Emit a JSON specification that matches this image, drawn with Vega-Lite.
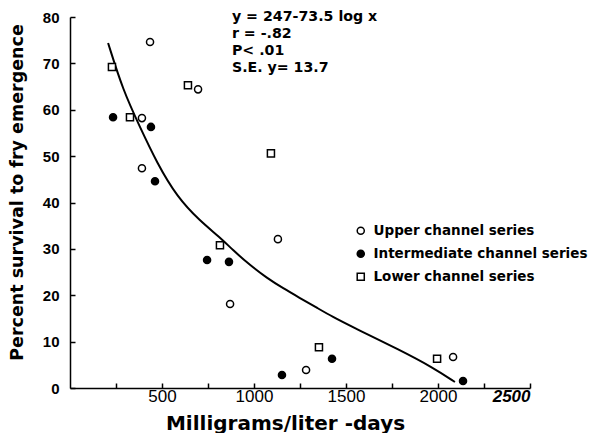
{
  "$schema": "https://vega.github.io/schema/vega-lite/v6.json",
  "width": 460,
  "height": 371,
  "autosize": {"type": "none"},
  "padding": {"left": 70, "top": 17, "right": 63, "bottom": 45},
  "background": "white",
  "config": {
    "view": {"stroke": null},
    "font": "Liberation Sans",
    "axis": {"grid": false, "domainColor": "black", "domainWidth": 1.5, "tickColor": "black", "tickWidth": 1.5, "labelColor": "black", "titleColor": "black"}
  },
  "datasets": {
    "curve": [
      {"mg": 207, "pct": 74.4},
      {"mg": 288, "pct": 64.2},
      {"mg": 380, "pct": 56.3},
      {"mg": 473, "pct": 48.5},
      {"mg": 582, "pct": 41.2},
      {"mg": 707, "pct": 36.0},
      {"mg": 815, "pct": 32.5},
      {"mg": 886, "pct": 29.7},
      {"mg": 978, "pct": 26.5},
      {"mg": 1071, "pct": 23.7},
      {"mg": 1158, "pct": 21.5},
      {"mg": 1250, "pct": 19.4},
      {"mg": 1342, "pct": 17.3},
      {"mg": 1429, "pct": 15.3},
      {"mg": 1522, "pct": 13.4},
      {"mg": 1793, "pct": 8.2},
      {"mg": 1973, "pct": 4.4},
      {"mg": 2092, "pct": 1.3}
    ],
    "obs": [
      {"series": "Upper channel series", "mg": 435, "pct": 74.6},
      {"series": "Upper channel series", "mg": 696, "pct": 64.4},
      {"series": "Upper channel series", "mg": 391, "pct": 58.2},
      {"series": "Upper channel series", "mg": 391, "pct": 47.4},
      {"series": "Upper channel series", "mg": 1130, "pct": 32.1},
      {"series": "Upper channel series", "mg": 870, "pct": 18.1},
      {"series": "Upper channel series", "mg": 1283, "pct": 3.9},
      {"series": "Upper channel series", "mg": 2082, "pct": 6.7},
      {"series": "Intermediate channel series", "mg": 234, "pct": 58.4},
      {"series": "Intermediate channel series", "mg": 440, "pct": 56.3},
      {"series": "Intermediate channel series", "mg": 462, "pct": 44.6},
      {"series": "Intermediate channel series", "mg": 745, "pct": 27.6},
      {"series": "Intermediate channel series", "mg": 864, "pct": 27.2},
      {"series": "Intermediate channel series", "mg": 1152, "pct": 2.8},
      {"series": "Intermediate channel series", "mg": 1424, "pct": 6.3},
      {"series": "Intermediate channel series", "mg": 2136, "pct": 1.5},
      {"series": "Lower channel series", "mg": 228, "pct": 69.2},
      {"series": "Lower channel series", "mg": 326, "pct": 58.4},
      {"series": "Lower channel series", "mg": 641, "pct": 65.3},
      {"series": "Lower channel series", "mg": 1092, "pct": 50.6},
      {"series": "Lower channel series", "mg": 815, "pct": 30.8},
      {"series": "Lower channel series", "mg": 1353, "pct": 8.8},
      {"series": "Lower channel series", "mg": 1995, "pct": 6.3}
    ]
  },
  "layer": [
    {
      "data": {"name": "curve"},
      "mark": {"type": "line", "color": "black", "strokeWidth": 2, "interpolate": "basis"},
      "encoding": {
        "x": {
          "field": "mg", "type": "quantitative",
          "scale": {"domain": [0, 2500], "nice": false},
          "axis": {
            "title": "Milligrams/liter -days",
            "titleFont": "DejaVu Sans", "titleFontSize": 20, "titleFontWeight": "bold",
            "titleX": 215, "titleY": 41, "titleBaseline": "alphabetic",
            "values": [250, 500, 750, 1000, 1250, 1500, 1750, 2000, 2250, 2500],
            "labelExpr": "datum.value % 500 == 0 ? datum.label : ''",
            "format": "d",
            "labelFontSize": 17,
            "labelFontWeight": {"condition": {"test": "datum.value == 2500", "value": "bold"}, "value": "normal"},
            "labelFontStyle": {"condition": {"test": "datum.value == 2500", "value": "italic"}, "value": "normal"},
            "tickSize": -5, "labelPadding": 5
          }
        },
        "y": {
          "field": "pct", "type": "quantitative",
          "scale": {"domain": [0, 80], "nice": false},
          "axis": {
            "title": "Percent survival to fry emergence",
            "titleFont": "DejaVu Sans", "titleFontSize": 17.5, "titleFontWeight": "bold",
            "titleX": -44, "titleY": 175,
            "values": [0, 10, 20, 30, 40, 50, 60, 70, 80],
            "labelFontSize": 15, "labelFontWeight": "bold",
            "tickSize": -5, "labelPadding": 16
          }
        }
      }
    },
    {
      "data": {"name": "obs"},
      "mark": {"type": "point", "filled": true, "stroke": "black", "strokeWidth": 1.5, "size": 50, "opacity": 1},
      "encoding": {
        "x": {"field": "mg", "type": "quantitative"},
        "y": {"field": "pct", "type": "quantitative"},
        "fill": {
          "field": "series", "type": "nominal",
          "scale": {"domain": ["Upper channel series", "Intermediate channel series", "Lower channel series"], "range": ["white", "black", "white"]},
          "legend": {"orient": "none", "legendX": 284, "legendY": 207, "title": null, "labelFont": "DejaVu Sans", "labelFontSize": 13.5, "labelFontWeight": "bold", "labelColor": "black", "labelLimit": 400, "symbolSize": 50, "rowPadding": 8, "labelOffset": 6, "padding": 0,
            "encode": {"symbols": {"update": {"stroke": {"value": "black"}, "strokeWidth": {"value": 1.5}, "opacity": {"value": 1}}}}}
        },
        "shape": {
          "field": "series", "type": "nominal",
          "scale": {"domain": ["Upper channel series", "Intermediate channel series", "Lower channel series"], "range": ["circle", "circle", "square"]},
          "legend": {"orient": "none", "legendX": 284, "legendY": 207, "title": null, "labelFont": "DejaVu Sans", "labelFontSize": 13.5, "labelFontWeight": "bold", "labelColor": "black", "labelLimit": 400, "symbolSize": 50, "rowPadding": 8, "labelOffset": 6, "padding": 0,
            "encode": {"symbols": {"update": {"stroke": {"value": "black"}, "strokeWidth": {"value": 1.5}, "opacity": {"value": 1}}}}}
        }
      }
    },
    {
      "data": {"values": [{}]},
      "mark": {"type": "text", "text": ["y = 247-73.5 log x", "r = -.82", "P< .01", "S.E. y= 13.7"], "align": "left", "baseline": "middle", "lineHeight": 17, "font": "DejaVu Sans", "fontSize": 14.2, "fontWeight": "bold", "color": "black"},
      "encoding": {
        "x": {"datum": 880},
        "y": {"datum": 80.0}
      }
    }
  ]
}
